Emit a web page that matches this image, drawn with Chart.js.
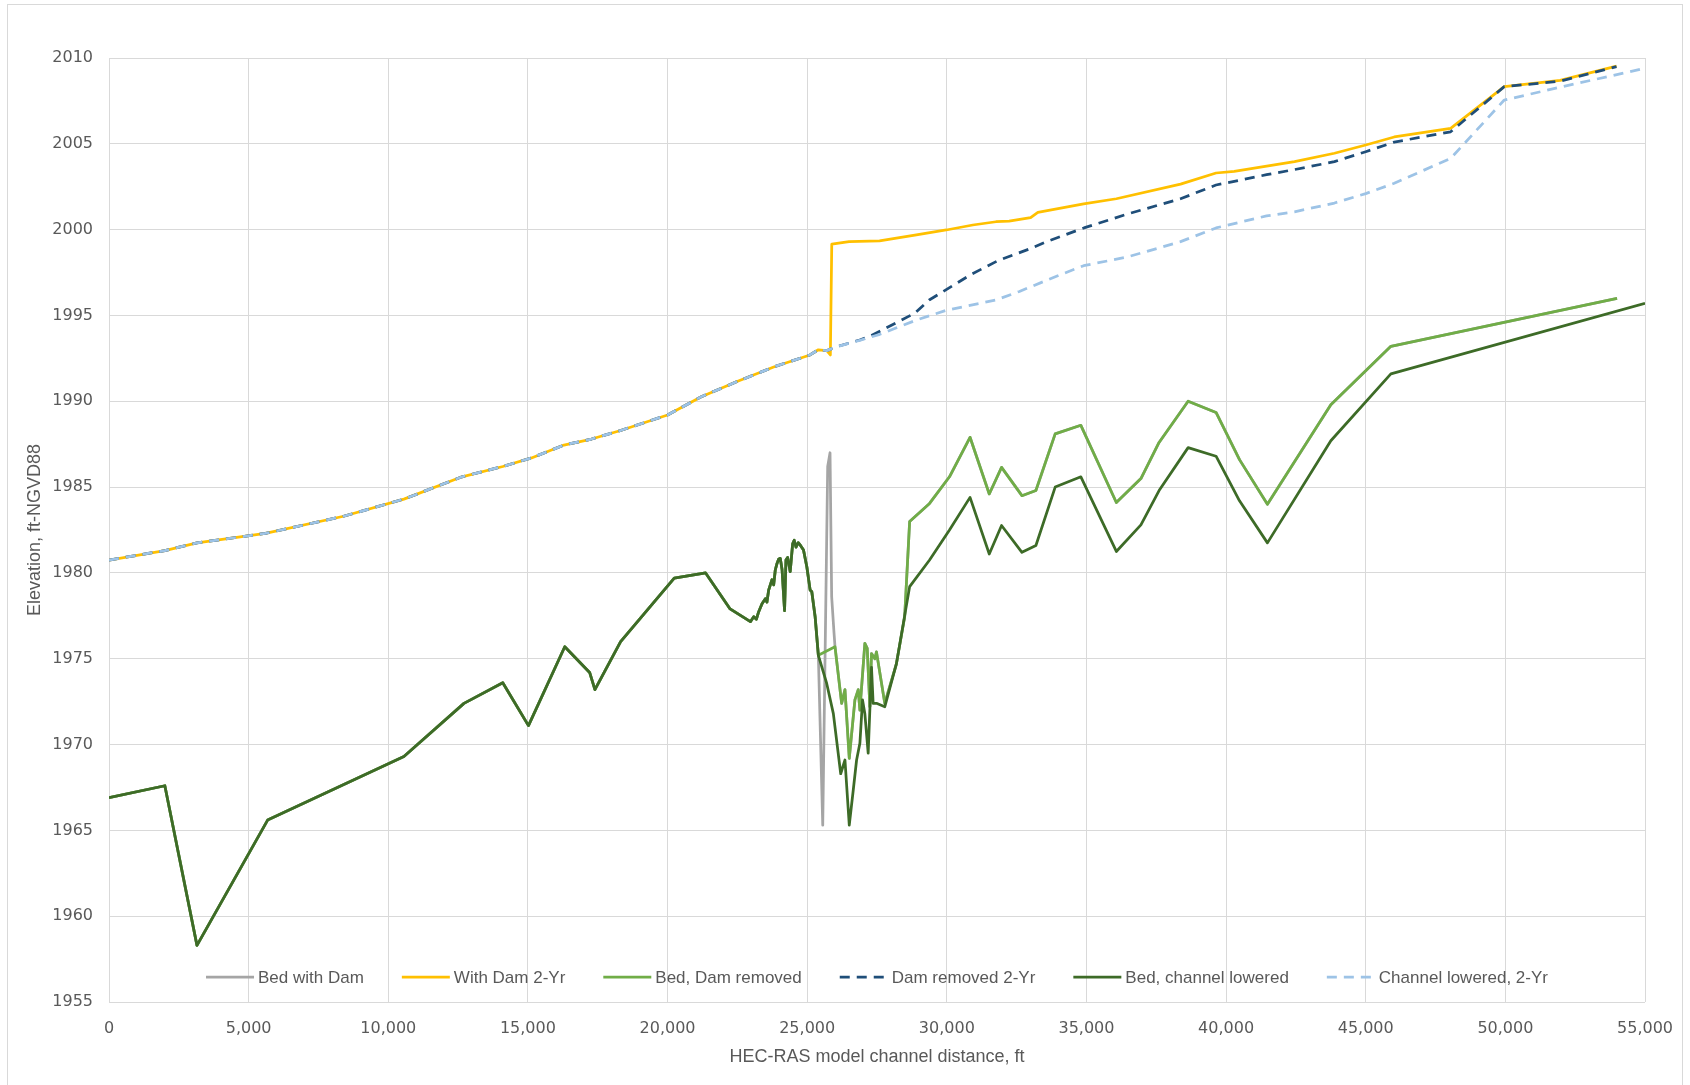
<!DOCTYPE html>
<html>
<head>
<meta charset="utf-8">
<script src="https://cdn.jsdelivr.net/npm/chart.js@4"></script>
<style>
    body { margin: 0; background: #ffffff; }
    #grafico { display: block; }
</style>
</head>
<body>
<canvas id="grafico" width="1690" height="1085"></canvas>
<script>
// water surface, common to all three runs below the dam
const wsBaseX = [0, 2000, 3150, 5600, 8400, 10560, 12640, 14100, 15130, 16290, 17280, 18320, 20000, 21190, 22490, 23800, 25100, 25400, 25700];
const wsBaseY = [1980.75, 1981.3, 1981.75, 1982.3, 1983.3, 1984.3, 1985.6, 1986.2, 1986.7, 1987.45, 1987.8, 1988.3, 1989.2, 1990.25, 1991.15, 1992.0, 1992.7, 1993.0, 1992.95];

// With Dam 2-Yr, above the dam
const wsDamX = [25830, 25880, 26500, 27590, 28910, 29980, 30930, 31760, 32230, 33000, 33260, 34900, 36070, 38370, 39640, 40290, 42450, 43880, 45000, 46020, 48040, 49960, 51960, 53980];
const wsDamY = [1992.7, 1999.15, 1999.3, 1999.35, 1999.7, 1999.98, 2000.27, 2000.46, 2000.5, 2000.7, 2001.0, 2001.5, 2001.8, 2002.65, 2003.3, 2003.4, 2003.96, 2004.45, 2004.93, 2005.4, 2005.9, 2008.33, 2008.7, 2009.53];

// Dam removed 2-Yr
const wsRemovedX = [26060, 26880, 27230, 28850, 29370, 30880, 31840, 33000, 33570, 34910, 36450, 38370, 39640, 41450, 42450, 43880, 45000, 46020, 48040, 49960, 51960, 53980];
const wsRemovedY = [1993.18, 1993.57, 1993.77, 1995.13, 1995.9, 1997.4, 1998.2, 1998.9, 1999.3, 2000.1, 2000.9, 2001.8, 2002.6, 2003.2, 2003.5, 2003.96, 2004.54, 2005.1, 2005.7, 2008.33, 2008.65, 2009.5];

// Channel lowered, 2-Yr
const wsLoweredX = [26060, 26880, 27600, 28910, 29980, 31760, 32600, 33950, 34900, 36450, 38370, 39640, 41450, 42450, 43880, 45000, 46020, 48040, 49960, 51960, 55000];
const wsLoweredY = [1993.18, 1993.55, 1993.9, 1994.73, 1995.3, 1995.9, 1996.4, 1997.3, 1997.9, 1998.4, 1999.3, 2000.1, 2000.8, 2001.04, 2001.55, 2002.1, 2002.7, 2004.15, 2007.55, 2008.3, 2009.4];

// bed profile, common to all runs below the dam
const bedBaseX = [0, 2000, 3150, 5680, 10560, 12710, 14100, 15020, 16320, 17210, 17400, 18320, 20240, 21363, 22240, 22967, 23086, 23180, 23264, 23383, 23502, 23560, 23620, 23739, 23800, 23858, 23920, 23977, 24036, 24100, 24190, 24240, 24300, 24392, 24480, 24535, 24600, 24680, 24760, 24868, 24987, 25106, 25165, 25284, 25400];
const bedBaseY = [1966.9, 1967.6, 1958.3, 1965.6, 1969.3, 1972.4, 1973.6, 1971.1, 1975.7, 1974.2, 1973.2, 1976.0, 1979.7, 1980.0, 1977.9, 1977.16, 1977.45, 1977.3, 1977.74, 1978.2, 1978.5, 1978.3, 1979.0, 1979.6, 1979.3, 1980.17, 1980.55, 1980.8, 1980.85, 1980.2, 1977.8, 1980.75, 1980.9, 1980.07, 1981.7, 1981.9, 1981.5, 1981.76, 1981.6, 1981.33, 1980.36, 1979.0, 1978.9, 1977.45, 1975.2];

// Bed with Dam, at the dam
const damSpikeX = [25557, 25734, 25818, 25877, 25961];
const damSpikeY = [1965.3, 1986.2, 1987.0, 1978.6, 1976.5];

// Bed, Dam removed
const removedMidX = [25996, 26234, 26353, 26507, 26709, 26828, 26887, 27065, 27150, 27244, 27303, 27422, 27481, 27778, 28194, 28491];
const removedMidY = [1975.7, 1972.4, 1973.2, 1969.2, 1972.6, 1973.2, 1972.0, 1975.9, 1975.6, 1972.2, 1975.3, 1975.0, 1975.4, 1972.4, 1974.7, 1977.45];
const removedUpX = [28669, 29382, 30095, 30831, 31520, 31960, 32690, 33190, 33880, 34800, 36070, 36950, 37600, 38640, 39640, 40480, 41480, 43750, 45900, 54000];
const removedUpY = [1983.0, 1984.05, 1985.6, 1987.9, 1984.6, 1986.15, 1984.5, 1984.8, 1988.1, 1988.6, 1984.1, 1985.5, 1987.6, 1990.0, 1989.35, 1986.6, 1984.0, 1989.8, 1993.2, 1996.0];

// Bed, channel lowered
const loweredX = [25699, 25937, 26200, 26353, 26507, 26650, 26769, 26887, 26982, 27065, 27184, 27303, 27362, 27481, 27778, 28194, 28669, 29382, 30095, 30831, 31520, 31960, 32690, 33190, 33880, 34800, 36070, 36950, 37600, 38640, 39640, 40480, 41480, 43750, 45900, 55000];
const loweredY = [1973.56, 1971.8, 1968.3, 1969.1, 1965.3, 1967.35, 1969.1, 1970.07, 1972.6, 1971.8, 1969.5, 1974.5, 1972.4, 1972.4, 1972.2, 1974.7, 1979.2, 1980.75, 1982.5, 1984.4, 1981.1, 1982.76, 1981.2, 1981.6, 1985.0, 1985.6, 1981.25, 1982.8, 1984.8, 1987.3, 1986.8, 1984.2, 1981.75, 1987.7, 1991.6, 1995.7];

const nombres = ["Bed with Dam", "With Dam 2-Yr", "Bed, Dam removed", "Dam removed 2-Yr", "Bed, channel lowered", "Channel lowered, 2-Yr"];
const xTicks = [0, 5000, 10000, 15000, 20000, 25000, 30000, 35000, 40000, 45000, 50000, 55000];
const yTicks = [1955, 1960, 1965, 1970, 1975, 1980, 1985, 1990, 1995, 2000, 2005, 2010];

const puntos = (xs, ys) => xs.map((x, i) => ({ x: x, y: ys[i] }));

const gris = "#595959";
const lineaGrid = "#d9d9d9";

const serie = (i, xs, ys, color, dash) => ({
    label: nombres[i],
    data: puntos(xs, ys),
    borderColor: color,
    backgroundColor: color,
    borderWidth: 2.75,
    borderDash: dash || [],
    borderJoinStyle: "round",
    pointRadius: 0,
    tension: 0,
    fill: false,
    order: nombres.length - i, // later series on top, like the original
});

// frame around the whole chart and the legend inside the plot
const marcoYLeyenda = {
    id: "marcoYLeyenda",
    beforeDraw(chart) {
        const ctx = chart.ctx;
        ctx.save();
        ctx.fillStyle = "#ffffff";
        ctx.fillRect(0, 0, chart.width, chart.height);
        ctx.strokeStyle = "#d9d9d9";
        ctx.lineWidth = 1;
        ctx.strokeRect(7.5, 4.5, 1675, 1100);
        ctx.restore();
    },
    afterDraw(chart) {
        const ctx = chart.ctx;
        const area = chart.chartArea;
        const muestra = 48;
        const hueco = 4;
        const entre = 38;
        ctx.save();
        ctx.font = '17px "Liberation Sans"';
        const anchos = chart.data.datasets.map((d) => ctx.measureText(d.label).width);
        const total = anchos.reduce((a, w) => a + muestra + hueco + w, 0) + entre * (anchos.length - 1);
        let x = (area.left + area.right) / 2 - total / 2;
        const y = 977;
        chart.data.datasets.forEach((d, i) => {
            ctx.beginPath();
            ctx.strokeStyle = d.borderColor;
            ctx.lineWidth = d.borderWidth;
            ctx.setLineDash(d.borderDash);
            ctx.moveTo(x, y);
            ctx.lineTo(x + muestra, y);
            ctx.stroke();
            ctx.setLineDash([]);
            ctx.fillStyle = gris;
            ctx.textBaseline = "middle";
            ctx.textAlign = "left";
            ctx.fillText(d.label, x + muestra + hueco, y + 1);
            x += muestra + hueco + anchos[i] + entre;
        });
        ctx.restore();
    },
};

const graficoCanvas = document.querySelector("#grafico");
const ctx = graficoCanvas.getContext("2d");

new Chart(ctx, {
    type: "line",
    data: {
        datasets: [
            serie(0, bedBaseX.concat(damSpikeX, removedMidX, removedUpX), bedBaseY.concat(damSpikeY, removedMidY, removedUpY), "#a5a5a5"),
            serie(1, wsBaseX.concat(wsDamX), wsBaseY.concat(wsDamY), "#ffc000"),
            serie(2, bedBaseX.concat(removedMidX, removedUpX), bedBaseY.concat(removedMidY, removedUpY), "#70ad47"),
            serie(3, wsBaseX.concat(wsRemovedX), wsBaseY.concat(wsRemovedY), "#1f4e79", [10, 7]),
            serie(4, bedBaseX.concat(loweredX), bedBaseY.concat(loweredY), "#3d6b27"),
            serie(5, wsBaseX.concat(wsLoweredX), wsBaseY.concat(wsLoweredY), "#9dc3e6", [10, 7]),
        ],
    },
    options: {
        responsive: false,
        animation: false,
        layout: { padding: { left: 0, right: 38, top: 58, bottom: 0 } },
        plugins: {
            legend: { display: false },
            tooltip: { enabled: false },
        },
        scales: {
            x: {
                type: "linear",
                min: xTicks[0],
                max: xTicks[xTicks.length - 1],
                afterBuildTicks: (scale) => { scale.ticks = xTicks.map((v) => ({ value: v })); },
                afterFit: (scale) => { scale.height = 83; },
                ticks: {
                    padding: 17,
                    color: gris,
                    font: { family: "DejaVu Sans", size: 16 },
                    maxRotation: 0,
                    callback: (v) => v.toLocaleString("en-US"),
                },
                grid: { color: lineaGrid, drawTicks: false },
                border: { display: false },
                title: {
                    display: true,
                    text: "HEC-RAS model channel distance, ft",
                    color: gris,
                    font: { family: "Liberation Sans", size: 18 },
                    padding: { top: 0, bottom: 17 },
                },
            },
            y: {
                type: "linear",
                min: yTicks[0],
                max: yTicks[yTicks.length - 1],
                afterBuildTicks: (scale) => { scale.ticks = yTicks.map((v) => ({ value: v })); },
                afterFit: (scale) => { scale.width = 109; },
                ticks: {
                    padding: 16,
                    color: gris,
                    font: { family: "DejaVu Sans", size: 16 },
                    callback: (v) => String(v),
                },
                grid: { color: lineaGrid, drawTicks: false },
                border: { display: false },
                title: {
                    display: true,
                    text: "Elevation, ft-NGVD88",
                    color: gris,
                    font: { family: "Liberation Sans", size: 18 },
                    padding: { top: 24, bottom: 0 },
                },
            },
        },
    },
    plugins: [marcoYLeyenda],
});
</script>
</body>
</html>
